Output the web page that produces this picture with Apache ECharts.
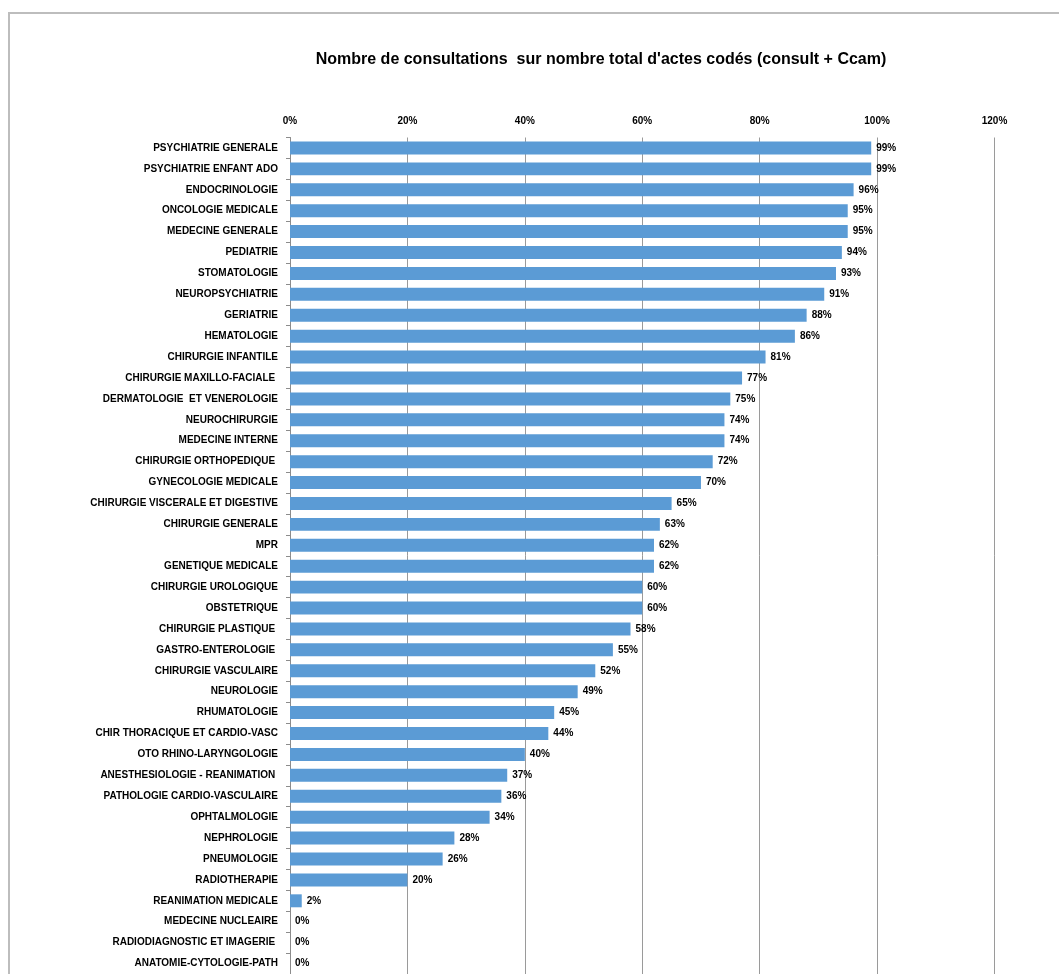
<!DOCTYPE html>
<html>
<head>
<meta charset="utf-8">
<script src="https://cdn.jsdelivr.net/npm/echarts@6/dist/echarts.min.js"></script>
<style>
  html, body { margin: 0; padding: 0; background: #fff; }
  #chart { width: 1059px; height: 974px; }
</style>
</head>
<body>
<div id="chart"></div>
<script>
// Specialties, top to bottom
const categories = [
  'PSYCHIATRIE GENERALE', 'PSYCHIATRIE ENFANT ADO', 'ENDOCRINOLOGIE', 'ONCOLOGIE MEDICALE',
  'MEDECINE GENERALE', 'PEDIATRIE', 'STOMATOLOGIE', 'NEUROPSYCHIATRIE', 'GERIATRIE',
  'HEMATOLOGIE', 'CHIRURGIE INFANTILE', 'CHIRURGIE MAXILLO-FACIALE ', 'DERMATOLOGIE  ET VENEROLOGIE',
  'NEUROCHIRURGIE', 'MEDECINE INTERNE', 'CHIRURGIE ORTHOPEDIQUE ', 'GYNECOLOGIE MEDICALE',
  'CHIRURGIE VISCERALE ET DIGESTIVE', 'CHIRURGIE GENERALE', 'MPR', 'GENETIQUE MEDICALE',
  'CHIRURGIE UROLOGIQUE', 'OBSTETRIQUE', 'CHIRURGIE PLASTIQUE ', 'GASTRO-ENTEROLOGIE ',
  'CHIRURGIE VASCULAIRE', 'NEUROLOGIE', 'RHUMATOLOGIE', 'CHIR THORACIQUE ET CARDIO-VASC',
  'OTO RHINO-LARYNGOLOGIE', 'ANESTHESIOLOGIE - REANIMATION ', 'PATHOLOGIE CARDIO-VASCULAIRE',
  'OPHTALMOLOGIE', 'NEPHROLOGIE', 'PNEUMOLOGIE', 'RADIOTHERAPIE', 'REANIMATION MEDICALE',
  'MEDECINE NUCLEAIRE', 'RADIODIAGNOSTIC ET IMAGERIE ', 'ANATOMIE-CYTOLOGIE-PATH'
];

// Share of consultations among all coded acts (%)
const shares = [
  99, 99, 96, 95, 95, 94, 93, 91, 88, 86,
  81, 77, 75, 74, 74, 72, 70, 65, 63, 62,
  62, 60, 60, 58, 55, 52, 49, 45, 44, 40,
  37, 36, 34, 28, 26, 20, 2, 0, 0, 0
];

// Value axis ticks (%)
const axisMin = 0;
const axisMax = 120;
const axisStep = 20;

const FONT = '"Liberation Sans", Arial, sans-serif';

const chart = echarts.init(document.getElementById('chart'), null, { renderer: 'canvas' });

chart.setOption({
  animation: false,
  backgroundColor: '#ffffff',
  title: {
    text: "Nombre de consultations  sur nombre total d'actes codés (consult + Ccam)",
    left: 596,
    textAlign: 'center',
    top: 47,
    textStyle: { fontFamily: FONT, fontSize: 16, fontWeight: 'bold', color: '#000' }
  },
  graphic: [
    {
      type: 'polyline',
      shape: { points: [[9, 1000], [9, 13], [1070, 13]] },
      style: { stroke: '#bdbdbd', lineWidth: 2, fill: null },
      silent: true
    }
  ],
  grid: {
    left: 290,
    right: 64.5,
    top: 137.5,
    height: 837,
    containLabel: false
  },
  xAxis: {
    type: 'value',
    position: 'top',
    min: axisMin,
    max: axisMax,
    interval: axisStep,
    axisLine: { show: false },
    axisTick: { show: false },
    axisLabel: {
      margin: 11,
      formatter: v => v + '%',
      fontFamily: FONT, fontSize: 10, fontWeight: 'bold', color: '#000'
    },
    splitLine: { show: true, lineStyle: { color: '#9a9a9a', width: 1 } }
  },
  yAxis: {
    type: 'category',
    data: categories,
    inverse: true,
    axisLine: { show: true, lineStyle: { color: '#8c8c8c', width: 1 } },
    axisTick: { show: true, length: 4, lineStyle: { color: '#8c8c8c' } },
    axisLabel: {
      margin: 12,
      fontFamily: FONT, fontSize: 10, fontWeight: 'bold', color: '#000'
    }
  },
  series: [
    {
      type: 'bar',
      data: shares,
      barCategoryGap: '38%',
      itemStyle: { color: '#5b9bd5' },
      label: {
        show: true,
        position: 'right',
        distance: 5,
        formatter: p => p.value + '%',
        fontFamily: FONT, fontSize: 10, fontWeight: 'bold', color: '#000'
      }
    }
  ]
});
</script>
</body>
</html>
